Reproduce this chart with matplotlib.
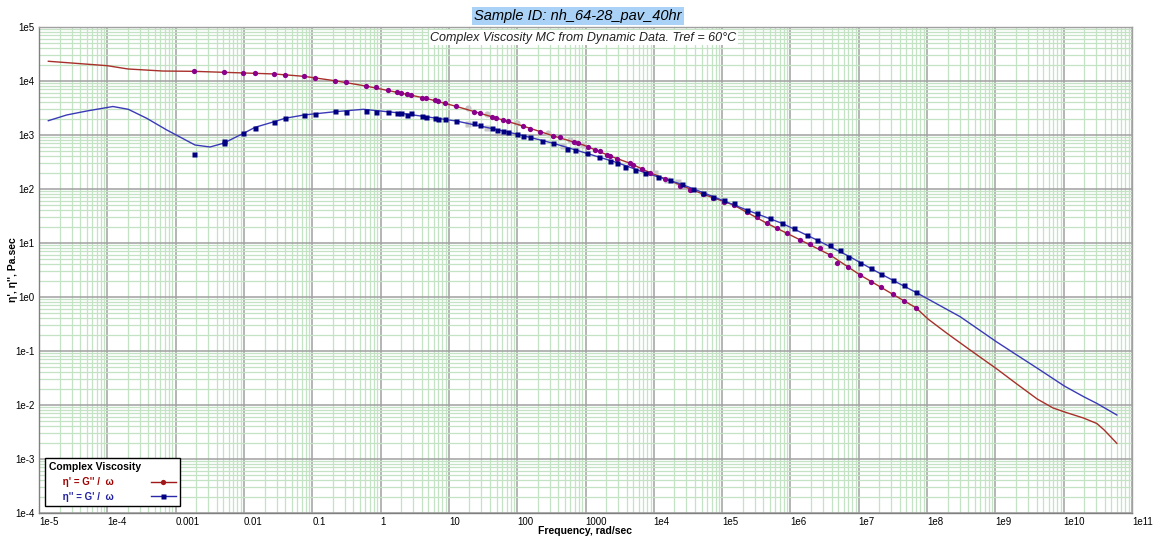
import numpy as np
import matplotlib
matplotlib.use("Agg")
import matplotlib.pyplot as plt
from matplotlib.ticker import LogLocator, FixedLocator, FixedFormatter, NullFormatter
from matplotlib.lines import Line2D

plt.rcParams["font.family"] = ["Liberation Sans", "DejaVu Sans"]

# eta' = G''/w  (model curve)
eta1_line_x = [1.37e-5, 1e-4, 2.0e-4, 6.5e-4, 1.86e-3, 9.7e-3, 0.0276, 0.0759, 0.216, 0.607,
               1.73, 4.59, 12.7, 42.4, 123, 339, 931, 2.29e3, 4.5e3, 8.83e3, 5.33e4, 1.47e5,
               4.51e5, 1.39e6, 3.81e6, 1.05e7, 3.16e7, 6.85e7, 1.03e8, 1.95e8, 4.28e8, 1.05e9,
               2.06e9, 4.1e9, 7.0e9, 1.11e10, 1.95e10, 3.06e10, 3.92e10, 6.0e10]
eta1_line_y = [2.32e4, 1.92e4, 1.67e4, 1.53e4, 1.51e4, 1.41e4, 1.35e4, 1.22e4, 1.01e4, 8.07e3,
               6.18e3, 4.79e3, 3.4e3, 2.18e3, 1.46e3, 962, 653, 408, 299, 200, 79.8, 50.6,
               23.2, 11.4, 6.0, 2.55, 1.12, 0.634, 0.392, 0.213, 0.104, 0.0465,
               0.0245, 0.0129, 8.8e-3, 7.2e-3, 5.74e-3, 4.54e-3, 3.44e-3, 1.95e-3]

# eta'' = G'/w  (model curve)
eta2_line_x = [1.37e-5, 2.55e-5, 4.99e-5, 1.21e-4, 2.03e-4, 3.77e-4, 7.41e-4, 1.92e-3, 3.19e-3,
               4.99e-3, 9.8e-3, 0.0146, 0.0276, 0.04, 0.0759, 0.216, 0.56, 1.73, 4.59, 12.7,
               35.9, 98.7, 339, 1.04e3, 2.93e3, 7.46e3, 2.57e4, 7.46e4, 2.3e5, 7.49e5, 2.43e6,
               7.06e6, 2.11e7, 6.85e7, 1.03e8, 3.05e8, 1.03e9, 2.06e9, 4.13e9, 1.02e10, 1.95e10,
               3.06e10, 6.0e10]
eta2_line_y = [1.84e3, 2.35e3, 2.78e3, 3.37e3, 2.99e3, 2.04e3, 1.24e3, 653, 600,
               702, 1.07e3, 1.39e3, 1.76e3, 2.04e3, 2.35e3, 2.70e3, 2.99e3, 2.59e3, 2.18e3, 1.82e3,
               1.38e3, 1.04e3, 702, 458, 307, 200, 122, 71.9, 40.8, 23.2, 11.4,
               5.74, 2.67, 1.22, 0.918, 0.432, 0.149, 0.0843, 0.0478, 0.0225, 0.0143,
               0.0107, 6.53e-3]

# measured points, eta'
eta1_pts_x = [1.86e-3, 5.16e-3, 9.8e-3, 0.0146, 0.0276, 0.04, 0.0759, 0.109, 0.216, 0.31,
              0.607, 0.86, 1.3, 1.73, 1.98, 2.42, 2.77, 4.01, 4.59, 6.28, 7.02, 8.79, 12.7,
              23.4, 28.6, 42.4, 49.1, 61.5, 74.3, 123, 155, 216, 339, 425, 681, 787, 1.07e3,
              1.38e3, 1.64e3, 2.05e3, 2.29e3, 2.93e3, 4.5e3, 4.98e3, 6.67e3, 8.83e3, 1.46e4,
              2.43e4, 3.4e4, 5.33e4, 7.46e4, 1.05e5, 1.47e5, 2.3e5, 3.22e5, 4.51e5, 6.32e5,
              8.86e5, 1.39e6, 1.94e6, 2.72e6, 3.81e6, 4.78e6, 7.06e6, 1.05e7, 1.52e7, 2.11e7,
              3.16e7, 4.62e7, 6.85e7]
eta1_pts_y = [1.51e4, 1.47e4, 1.41e4, 1.41e4, 1.35e4, 1.31e4, 1.22e4, 1.12e4, 1.01e4, 9.46e3,
              8.07e3, 7.59e3, 6.81e3, 6.18e3, 6.0e3, 5.82e3, 5.51e3, 4.91e3, 4.79e3, 4.4e3, 4.27e3,
              3.87e3, 3.4e3, 2.7e3, 2.59e3, 2.18e3, 2.04e3, 1.9e3, 1.82e3, 1.46e3, 1.29e3,
              1.15e3, 962, 906, 751, 720, 592, 528, 512, 426, 408, 364, 299, 278, 232, 200, 153,
              114, 95.8, 79.8, 67.3, 58.2, 50.6, 38, 29.9, 23.2, 19.2, 15.5, 11.4, 9.58, 7.98,
              6.0, 4.32, 3.64, 2.55, 1.92, 1.51, 1.12, 0.843, 0.634]

# measured points, eta''
eta2_pts_x = [1.86e-3, 5.16e-3, 5.16e-3, 9.8e-3, 0.0146, 0.0276, 0.04, 0.0759, 0.109, 0.216,
              0.31, 0.607, 0.86, 1.3, 1.73, 1.98, 2.42, 2.77, 4.01, 4.59, 6.28, 7.02, 8.79,
              12.7, 23.4, 28.6, 42.4, 50.2, 61.5, 74.3, 98.6, 123, 155, 229, 339, 528, 705,
              1.04e3, 1.55e3, 2.29e3, 2.93e3, 3.8e3, 5.33e3, 7.46e3, 1.17e4, 1.73e4, 2.57e4,
              3.8e4, 5.33e4, 7.46e4, 1.05e5, 1.47e5, 2.3e5, 3.22e5, 5.05e5, 7.49e5, 1.11e6,
              1.74e6, 2.43e6, 3.81e6, 5.35e6, 7.06e6, 1.05e7, 1.52e7, 2.11e7, 3.16e7, 4.62e7,
              6.85e7]
eta2_pts_y = [440, 780, 720, 1.1e3, 1.37e3, 1.72e3, 2.04e3, 2.35e3, 2.45e3, 2.78e3,
              2.70e3, 2.78e3, 2.67e3, 2.63e3, 2.52e3, 2.52e3, 2.35e3, 2.52e3, 2.27e3, 2.18e3,
              2.04e3, 1.98e3, 1.98e3, 1.82e3, 1.65e3, 1.53e3, 1.33e3, 1.24e3, 1.19e3, 1.15e3,
              1.04e3, 958, 906, 783, 702, 560, 528, 458, 396, 334, 307, 259, 225, 200, 169,
              147, 122, 98.6, 85.3, 71.9, 62.5, 55.7, 40.8, 35.5, 28.7, 23.2, 18.7, 14.1, 11.4,
              9.18, 7.41, 5.57, 4.32, 3.4, 2.67, 2.07, 1.67, 1.22]

# greyed (deselected) points
grey_c_x = [18.9, 35.9, 98.6, 286, 596, 931]
grey_c_y = [3.12e3, 2.45e3, 1.69e3, 1.1e3, 807, 653]
grey_s_x = [18.9, 35.9, 475, 1.05e4, 1.55e4, 2.29e4]
grey_s_y = [1.58e3, 1.33e3, 625, 195, 147, 136.5]

x_ticks = [1e-5, 1e-4, 1e-3, 1e-2, 0.1, 1, 10, 100, 1000, 1e4, 1e5, 1e6, 1e7, 1e8, 1e9, 1e10, 1e11]
x_labels = ["1e-5", "1e-4", "0.001", "0.01", "0.1", "1", "10", "100", "1000", "1e4", "1e5",
            "1e6", "1e7", "1e8", "1e9", "1e10", "1e11"]
y_ticks = [1e-4, 1e-3, 1e-2, 0.1, 1, 10, 100, 1e3, 1e4, 1e5]
y_labels = ["1e-4", "1e-3", "1e-2", "1e-1", "1e0", "1e1", "1e2", "1e3", "1e4", "1e5"]

fig = plt.figure(figsize=(11.6, 5.39), dpi=100)
ax = fig.add_axes([39 / 1160, 1 - 513 / 539, 1093 / 1160, 486 / 539])
ax.set_xscale("log")
ax.set_yscale("log")
ax.set_xlim(1e-5, 1e11)
ax.set_ylim(1e-4, 1e5)

ax.xaxis.set_major_locator(FixedLocator(x_ticks))
ax.xaxis.set_major_formatter(FixedFormatter(x_labels))
ax.yaxis.set_major_locator(FixedLocator(y_ticks))
ax.yaxis.set_major_formatter(FixedFormatter(y_labels))
ax.xaxis.set_minor_locator(LogLocator(base=10, subs=np.arange(2, 10), numticks=500))
ax.yaxis.set_minor_locator(LogLocator(base=10, subs=np.arange(2, 10), numticks=500))
ax.xaxis.set_minor_formatter(NullFormatter())
ax.yaxis.set_minor_formatter(NullFormatter())

ax.grid(True, which="minor", color="#c4e2c4", lw=0.9, zorder=0)
ax.grid(True, which="major", color="#a0a0a0", lw=1.1, zorder=0)
ax.set_axisbelow(True)
ax.tick_params(which="both", length=0)
ax.tick_params(axis="x", labelsize=7, pad=3)
ax.tick_params(axis="y", labelsize=7, pad=3)
for lab in ax.get_xticklabels():
    lab.set_horizontalalignment("left")
for s in ax.spines.values():
    s.set_color("#a0a0a0")
    s.set_linewidth(1.0)
ax.spines["left"].set_color("#808080")
ax.spines["bottom"].set_color("#808080")

red_line = "#a8302a"
blue_line = "#3a3ab8"
red_pt = "#8b008b"
blue_pt = "#000080"

ax.plot(grey_c_x, grey_c_y, "o", color="#c8c8c8", ms=4.5, mec="none", zorder=2)
ax.plot(grey_s_x, grey_s_y, "s", color="#c8c8c8", ms=4.5, mec="none", zorder=2)
ax.plot(eta1_line_x, eta1_line_y, "-", color=red_line, lw=1.0, zorder=3)
ax.plot(eta2_line_x, eta2_line_y, "-", color=blue_line, lw=1.0, zorder=3)
ax.plot(eta1_pts_x, eta1_pts_y, "o", color=red_pt, ms=3.8, mec="none", zorder=4)
ax.plot(eta2_pts_x, eta2_pts_y, "s", color=blue_pt, ms=3.6, mec="none", zorder=4)

ax.set_xlabel("Frequency, rad/sec", fontsize=7.5, fontweight="bold")
ax.xaxis.set_label_coords(0.5, -(531 - 513) / 486)
ax.xaxis.label.set_va("center")
ax.set_ylabel("η', η'', Pa.sec", fontsize=7.5, fontweight="bold")
ax.yaxis.set_label_coords(-(39 - 13) / 1093, 0.5)
ax.yaxis.label.set_va("center")

fig.text(578 / 1160, 1 - 16 / 539, "Sample ID: nh_64-28_pav_40hr", fontsize=10.5,
         style="italic", ha="center", va="center",
         bbox=dict(boxstyle="square,pad=0.15", fc="#aad2f7", ec="none"))
ax.text(0.498, 0.978, "Complex Viscosity MC from Dynamic Data. Tref = 60°C", transform=ax.transAxes,
        fontsize=9, style="italic", ha="center", va="center", color="#202020",
        bbox=dict(boxstyle="square,pad=0.1", fc="white", ec="none"), zorder=6)

h1 = Line2D([], [], color="#a01818", lw=1.0, marker="o", ms=3.8, mfc="#a01818", mec="none")
h2 = Line2D([], [], color="#2828a8", lw=1.0, marker="s", ms=3.6, mfc="#000080", mec="none")
leg = ax.legend([h1, h2], ["     η' = G'' /  ω", "     η'' = G' /  ω"], title="Complex Viscosity",
                loc="lower left", bbox_to_anchor=(0.0055, 0.015), markerfirst=False,
                fontsize=7, title_fontproperties={"weight": "bold", "size": 7.5},
                labelcolor=["#a00000", "#2020a0"], fancybox=False, edgecolor="black",
                framealpha=1, handlelength=2.6, handletextpad=3.8, borderpad=0.4,
                labelspacing=0.5, borderaxespad=0)
leg.get_frame().set_linewidth(1.0)
leg._legend_box.align = "left"
for t in leg.get_texts():
    t.set_fontweight("bold")
leg.set_zorder(7)

fig.savefig("out.png", dpi=100)
